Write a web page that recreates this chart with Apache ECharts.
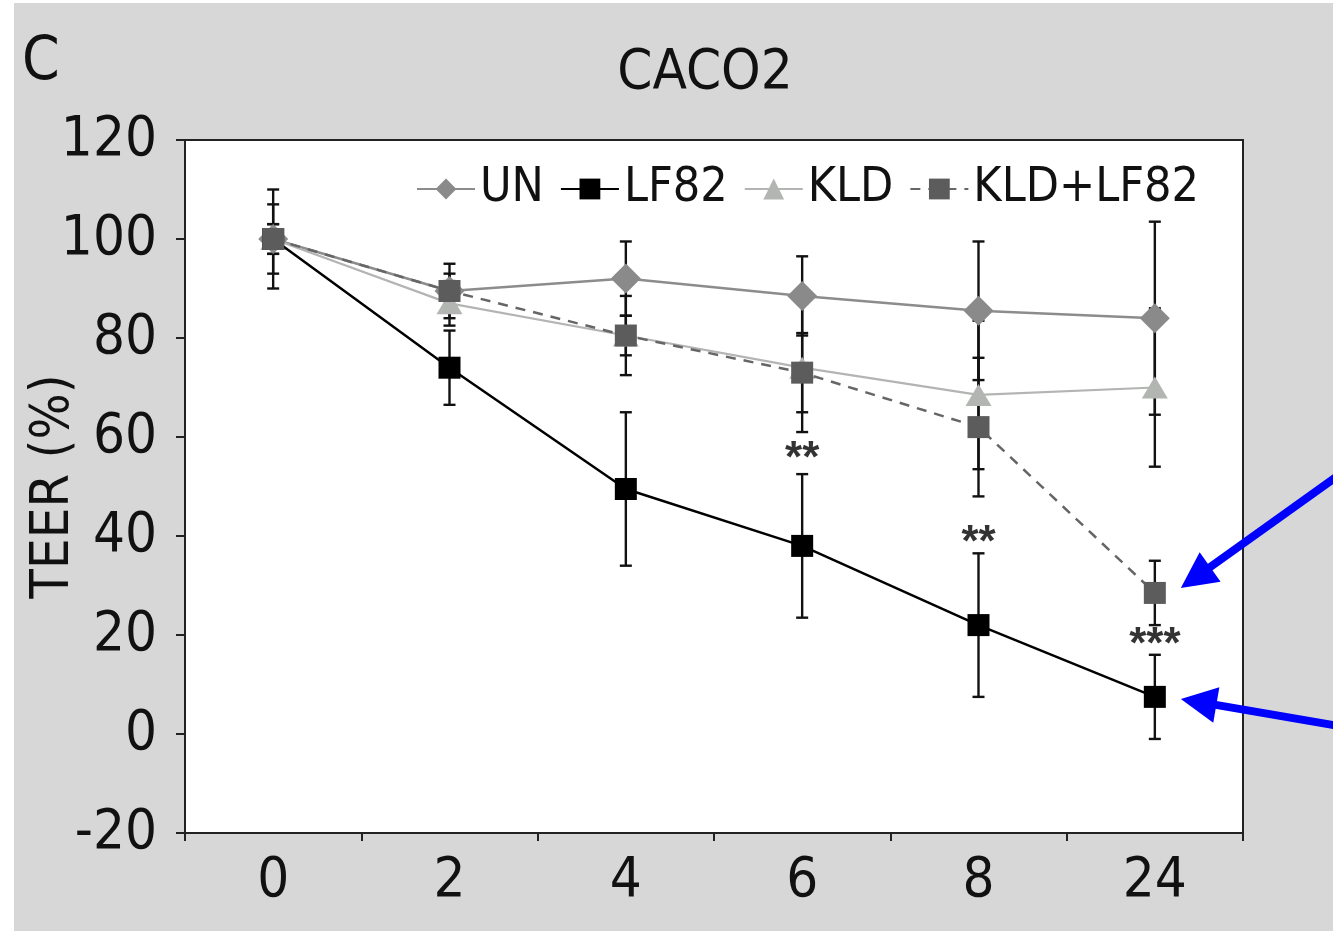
<!DOCTYPE html>
<html>
<head>
<meta charset="utf-8">
<script src="https://cdn.jsdelivr.net/npm/echarts@6/dist/echarts.min.js"></script>
<style>
html,body{margin:0;padding:0;background:#fff;width:1333px;height:931px;overflow:hidden;}
#main{position:absolute;left:14px;top:3px;width:1319px;height:928px;}
</style>
</head>
<body>
<div id="main"></div>
<script>
// ---- data ----
const categories = ['0', '2', '4', '6', '8', '24'];
const yTicks = [-20, 0, 20, 40, 60, 80, 100, 120];
const seriesNames = ['UN', 'LF82', 'KLD', 'KLD+LF82'];
const unMean   = [100, 89.5, 92, 88.5, 85.5, 84];
const unErr    = [10, 5.5, 7.5, 8, 14, 19.5];
const lf82Mean = [100, 74, 49.5, 38, 22, 7.5];
const lf82Err  = [7, 7.5, 15.5, 14.5, 14.5, 8.5];
const kldMean  = [100, 87, 80.5, 74, 68.5, 70];
const kldErr   = [3, 4.5, 4, 13, 15, 16];
const comboMean = [100, 89.5, 80.5, 73, 62, 28.5];
const comboErr  = [3, 3.5, 8, 8, 14, 6.5];
const starCats   = ['6', '8', '24'];
const starValues = [57, 40, 19.5];
const starTexts  = ['**', '**', '***'];
const arrowTargets = ['KLD+LF82', 'LF82']; // arrows point at the 24 h values

// ---- styling ----
const NARROW = "'DejaVu Sans Condensed', 'Liberation Sans Narrow', 'Arial Narrow', sans-serif";
const SANS = "'Liberation Sans', Arial, sans-serif";

function errData(mean, err) {
  return mean.map((m, i) => [i, m - err[i], m + err[i]]);
}
function errSeries(mean, err, z) {
  return {
    type: 'custom',
    silent: true,
    z: z,
    data: errData(mean, err),
    encode: { x: 0, y: [1, 2] },
    renderItem: function (params, api) {
      const x = api.value(0);
      const lo = api.coord([x, api.value(1)]);
      const hi = api.coord([x, api.value(2)]);
      const hw = 6;
      const st = { stroke: '#111', lineWidth: 2.4 };
      return {
        type: 'group',
        children: [
          { type: 'line', shape: { x1: lo[0], y1: lo[1], x2: hi[0], y2: hi[1] }, style: st },
          { type: 'line', shape: { x1: lo[0] - hw, y1: lo[1], x2: lo[0] + hw, y2: lo[1] }, style: st },
          { type: 'line', shape: { x1: hi[0] - hw, y1: hi[1], x2: hi[0] + hw, y2: hi[1] }, style: st }
        ]
      };
    }
  };
}

const chart = echarts.init(document.getElementById('main'), null, { renderer: 'canvas' });

const option = {
  animation: false,
  backgroundColor: '#d7d7d7',
  grid: {
    left: 171, top: 137, width: 1058, height: 693,
    show: true, backgroundColor: '#ffffff', borderColor: '#222', borderWidth: 2,
    containLabel: false,
    outerBoundsMode: 'none'
  },
  legend: {
    data: seriesNames,
    left: 397, top: 157,
    itemWidth: 58, itemHeight: 26, itemGap: 16,
    textStyle: { fontSize: 48, fontFamily: NARROW, color: '#111' }
  },
  graphic: [
    { type: 'text', left: 8, top: 30, style: { text: 'C', fontSize: 60, fontFamily: NARROW, fill: '#111' } },
    { type: 'text', x: 691, y: 70, style: { text: 'CACO2', fontSize: 56, fontFamily: NARROW, fill: '#111', textAlign: 'center', textVerticalAlign: 'middle' } }
  ],
  xAxis: {
    type: 'category',
    data: categories,
    boundaryGap: true,
    axisLine: { show: true, onZero: false, lineStyle: { color: '#222', width: 2 } },
    axisTick: { show: true, inside: false, length: 8, lineStyle: { color: '#222', width: 2 } },
    axisLabel: { fontSize: 56, fontFamily: NARROW, color: '#111', margin: 20 },
    splitLine: { show: false }
  },
  yAxis: {
    type: 'value',
    min: -20, max: 120, interval: 20,
    name: 'TEER (%)',
    nameLocation: 'middle',
    nameGap: 104,
    nameMoveOverlap: false,
    nameTextStyle: { fontSize: 54, fontFamily: NARROW, color: '#111' },
    axisLine: { show: true, lineStyle: { color: '#222', width: 2 } },
    axisTick: { show: true, inside: false, length: 9, lineStyle: { color: '#222', width: 2 } },
    axisLabel: { fontSize: 56, fontFamily: NARROW, color: '#111', margin: 28,
      formatter: function (v) { return yTicks.indexOf(v) >= 0 ? String(v) : ''; } },
    splitLine: { show: false }
  },
  series: [
    errSeries(unMean, unErr, 1),
    errSeries(lf82Mean, lf82Err, 1),
    errSeries(kldMean, kldErr, 1),
    errSeries(comboMean, comboErr, 1),
    {
      name: 'UN', type: 'line', data: unMean, z: 3,
      symbol: 'diamond', symbolSize: [30, 30],
      lineStyle: { color: '#8c8c8c', width: 2.5 },
      itemStyle: { color: '#8a8a8a' }
    },
    {
      name: 'LF82', type: 'line', data: lf82Mean, z: 4,
      symbol: 'rect', symbolSize: 22,
      lineStyle: { color: '#000', width: 2.5 },
      itemStyle: { color: '#000' }
    },
    {
      name: 'KLD', type: 'line', data: kldMean, z: 3,
      symbol: 'triangle', symbolSize: [26, 22],
      lineStyle: { color: '#b2b5b2', width: 2.2 },
      itemStyle: { color: '#b2b5b2' }
    },
    {
      name: 'KLD+LF82', type: 'line', data: comboMean, z: 5,
      symbol: 'rect', symbolSize: 22,
      lineStyle: { color: '#666', width: 2.5, type: [10, 8] },
      itemStyle: { color: '#5c5c5c' }
    },
    {
      name: 'stars', type: 'scatter', z: 6, silent: true,
      symbolSize: 0,
      data: starCats.map((c, i) => ({ value: [c, starValues[i]], label: { formatter: starTexts[i] } })),
      label: {
        show: true, position: 'inside', fontSize: 44, fontWeight: 'bold', fontFamily: SANS, color: '#000',
        offset: [0, 8]
      }
    }
  ]
};
chart.setOption(option);

// arrows pointing at the 24 h values of the highlighted series
function arrowShapes() {
  const lastIdx = categories.length - 1;
  const means = { 'KLD+LF82': comboMean, 'LF82': lf82Mean };
  const tailOffsets = { 'KLD+LF82': [175, -125], 'LF82': [175, 30] };
  const tipOffsets = { 'KLD+LF82': [26, -5], 'LF82': [26, 2] };
  const els = [];
  arrowTargets.forEach(function (name) {
    const p = chart.convertToPixel({ gridIndex: 0 }, [lastIdx, means[name][lastIdx]]);
    const tip = [p[0] + tipOffsets[name][0], p[1] + tipOffsets[name][1]];
    const tail = [tip[0] + tailOffsets[name][0], tip[1] + tailOffsets[name][1]];
    const dx = tail[0] - tip[0], dy = tail[1] - tip[1];
    const len = Math.sqrt(dx * dx + dy * dy);
    const ux = dx / len, uy = dy / len;
    const hl = 36, hw = 18;
    const base = [tip[0] + ux * hl, tip[1] + uy * hl];
    els.push({
      type: 'line', z: 20,
      shape: { x1: base[0] - ux * 2, y1: base[1] - uy * 2, x2: tail[0], y2: tail[1] },
      style: { stroke: '#0000ff', lineWidth: 8 }
    });
    els.push({
      type: 'polygon', z: 20,
      shape: { points: [tip, [base[0] - uy * hw, base[1] + ux * hw], [base[0] + uy * hw, base[1] - ux * hw]] },
      style: { fill: '#0000ff' }
    });
  });
  return els;
}
chart.setOption({ graphic: option.graphic.concat(arrowShapes()) });
</script>
</body>
</html>
